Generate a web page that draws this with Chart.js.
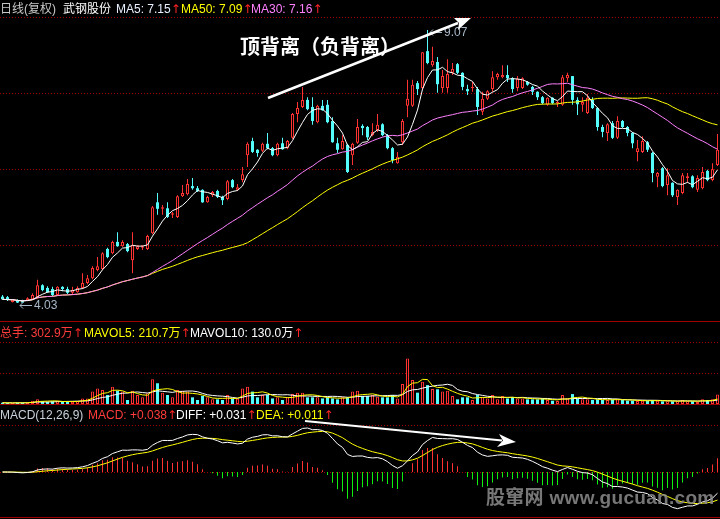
<!DOCTYPE html>
<html>
<head>
<meta charset="utf-8">
<script src="https://cdn.jsdelivr.net/npm/chart.js@4.4.1/dist/chart.umd.min.js"></script>
<style>
  html, body { margin: 0; padding: 0; background: #000; }
  #wrap { position: relative; width: 720px; height: 519px; overflow: hidden; background: #000;
    font-family: "Liberation Sans", "Noto Sans CJK SC", sans-serif; font-size: 12px; }
  canvas { position: absolute; left: 0; }
  .t { position: absolute; white-space: nowrap; line-height: 14px; }
  .up { color: #ff2424; font-family: "DejaVu Sans", sans-serif; font-size: 12px; }
  .sep { position: absolute; left: 0; width: 720px; height: 1px; background: #a00000; }
  #note { position: absolute; left: 240px; top: 31px; color: #fff; font: bold 20px "Noto Sans CJK SC", sans-serif; white-space: nowrap; }
  #mark { position: absolute; left: 486px; top: 482px; color: rgba(140,140,140,0.85); font: bold 19px "Liberation Sans", "Noto Sans CJK SC", sans-serif; letter-spacing: 0.3px; white-space: nowrap; }
  svg { position: absolute; left: 0; top: 0; }
</style>
</head>
<body>
<div id="wrap">
  <canvas id="price" width="720" height="322" style="top:0"></canvas>
  <canvas id="vol" width="720" height="84" style="top:321px"></canvas>
  <canvas id="macd" width="720" height="113" style="top:405px"></canvas>

  <div class="sep" style="top:321px"></div>
  <div class="sep" style="top:404px"></div>
  <div class="sep" style="top:517px"></div>

  <div class="t" style="left:0;top:2px;color:#c8c8c8">日线(复权)</div>
  <div class="t" style="left:63px;top:2px;color:#fff">武钢股份</div>
  <div class="t" style="left:116px;top:2px;color:#e8f0ff">MA5: 7.15<span class="up">↑</span></div>
  <div class="t" style="left:181px;top:2px;color:#ffff00">MA50: 7.09<span class="up">↑</span></div>
  <div class="t" style="left:251px;top:2px;color:#ff80ff">MA30: 7.16<span class="up">↑</span></div>

  <div class="t" style="left:0;top:326px;color:#ff3c3c">总手: 302.9万<span class="up">↑</span></div>
  <div class="t" style="left:84px;top:326px;color:#ffff00">MAVOL5: 210.7万<span class="up">↑</span></div>
  <div class="t" style="left:190px;top:326px;color:#fff">MAVOL10: 130.0万<span class="up">↑</span></div>

  <div class="t" style="left:0;top:408px;color:#c8d0dc">MACD(12,26,9)</div>
  <div class="t" style="left:88px;top:408px;color:#ff3c3c">MACD: +0.038<span class="up">↑</span></div>
  <div class="t" style="left:176px;top:408px;color:#fff">DIFF: +0.031<span class="up">↑</span></div>
  <div class="t" style="left:256px;top:408px;color:#ffff00">DEA: +0.011<span class="up">↑</span></div>

  <div id="note">顶背离（负背离）</div>
  <svg width="720" height="519">
    <line x1="268" y1="98" x2="458" y2="23" stroke="#fff" stroke-width="2.5"/>
    <polygon points="471,18 458,30 459,23 454,18" fill="#fff"/>
    <line x1="305" y1="421" x2="502" y2="440.5" stroke="#fff" stroke-width="2"/>
    <polygon points="516,442 497,447 503,440.5 499,434" fill="#fff"/>
  </svg>
  <div id="mark">股窜网 www.gucuan.com</div>
</div>

<script>
// daily bars, oldest first
const opens = [4.15,4.14,4.05,4.08,4.07,4.08,4.10,4.14,4.36,4.31,4.29,4.18,4.33,4.29,4.22,4.23,
  4.31,4.40,4.49,4.64,4.66,5.03,4.95,5.16,5.08,5.12,4.82,5.03,5.05,5.03,5.32,5.89,5.77,5.78,5.66,5.62,
  6.00,6.04,6.19,6.15,6.12,5.89,6.02,6.10,5.99,5.95,6.30,6.12,6.30,6.76,7.02,6.86,6.84,6.97,6.89,6.76,
  6.98,6.89,7.08,7.52,7.65,7.78,7.65,7.37,7.67,7.69,7.39,6.98,6.87,6.95,6.76,6.99,7.30,7.28,7.13,7.22,
  7.33,7.13,6.89,6.61,7.00,7.67,7.67,8.09,8.00,8.68,8.42,8.48,8.00,8.00,8.28,8.44,8.28,7.98,8.00,7.98,
  7.56,7.80,7.98,8.20,8.20,8.24,8.18,8.00,8.00,8.11,8.02,7.93,7.83,7.69,7.82,7.72,7.69,8.18,8.22,7.78,
  7.69,7.54,7.78,7.63,7.28,7.17,7.35,7.08,7.39,7.28,7.17,6.82,6.82,7.00,6.80,6.36,6.52,6.21,6.25,5.99,
  6.06,6.34,6.37,6.12,6.15,6.47,6.30,6.58];
const highs = [4.18,4.16,4.10,4.10,4.09,4.14,4.21,4.46,4.38,4.34,4.33,4.34,4.34,4.33,4.33,4.34,
  4.58,4.55,4.71,4.88,4.97,5.05,5.18,5.34,5.19,5.14,5.34,5.10,5.10,5.29,5.82,6.06,5.84,5.89,5.71,6.02,
  6.21,6.32,6.34,6.19,6.13,6.01,6.10,6.12,6.01,6.30,6.32,6.23,6.54,7.00,7.08,6.87,6.99,7.17,6.91,6.99,
  7.08,7.04,7.54,7.74,8.02,7.83,7.83,7.69,7.78,7.78,7.46,7.08,7.13,6.97,6.99,7.43,7.33,7.30,7.35,7.52,
  7.35,7.15,6.91,6.82,7.43,8.15,8.15,8.13,8.66,9.07,8.76,8.57,8.33,8.53,8.46,8.46,8.29,8.06,8.11,8.02,
  7.93,7.96,8.31,8.28,8.42,8.42,8.20,8.22,8.20,8.13,8.04,7.94,7.85,7.83,7.83,7.76,8.24,8.28,8.22,7.83,
  7.83,7.89,7.83,7.65,7.32,7.35,7.39,7.48,7.41,7.30,7.19,7.04,7.11,7.02,6.82,6.45,6.54,6.52,6.26,6.13,
  6.43,6.43,6.39,6.39,6.54,6.49,6.61,7.15];
const lows = [4.09,4.07,4.04,4.03,4.04,4.07,4.09,4.12,4.25,4.22,4.16,4.16,4.25,4.20,4.18,4.22,
  4.29,4.38,4.47,4.62,4.64,4.86,4.93,5.07,5.07,4.97,4.58,5.01,5.01,5.01,5.30,5.66,5.66,5.60,5.60,5.60,
  5.99,6.02,6.12,6.08,5.88,5.88,5.99,5.97,5.84,5.93,6.15,6.10,6.26,6.54,6.80,6.73,6.82,6.87,6.74,6.74,
  6.86,6.87,7.06,7.37,7.63,7.59,7.32,7.35,7.58,7.35,6.99,6.80,6.86,6.43,6.58,6.97,7.13,7.04,7.11,7.19,
  7.11,6.87,6.61,6.60,6.95,7.46,7.65,7.87,7.96,8.44,8.39,7.91,7.91,7.91,8.24,8.26,7.96,7.87,7.93,7.50,
  7.50,7.78,7.93,8.15,8.18,8.11,7.91,7.94,7.98,8.04,7.87,7.78,7.70,7.67,7.70,7.65,7.67,8.11,7.69,7.50,
  7.56,7.52,7.61,7.21,7.09,7.02,7.06,7.06,7.26,7.11,6.89,6.65,6.80,6.82,6.26,6.17,6.17,6.02,5.99,5.84,
  6.04,6.25,6.15,6.08,6.13,6.28,6.28,6.56];
const closes = [4.10,4.09,4.09,4.04,4.04,4.12,4.18,4.36,4.27,4.23,4.18,4.33,4.29,4.22,4.27,4.31,
  4.40,4.49,4.68,4.71,4.95,4.88,5.16,5.08,5.16,4.99,5.10,5.08,5.08,5.27,5.80,5.77,5.80,5.62,5.69,6.00,
  6.06,6.23,6.15,6.10,5.89,5.99,6.08,5.99,5.93,6.28,6.17,6.17,6.41,6.97,6.82,6.80,6.97,6.89,6.76,6.97,
  6.87,7.02,7.52,7.63,7.78,7.61,7.39,7.67,7.59,7.37,7.00,6.86,7.02,6.45,6.97,7.28,7.26,7.09,7.19,7.32,
  7.13,6.89,6.67,6.73,7.39,7.80,8.06,7.98,8.66,8.46,8.50,8.07,8.22,8.26,8.35,8.28,8.02,7.94,8.02,7.65,
  7.80,7.94,8.20,8.26,8.24,8.18,7.98,8.17,8.18,8.06,7.93,7.83,7.72,7.82,7.72,7.74,8.20,8.24,7.78,7.70,
  7.74,7.82,7.63,7.28,7.19,7.33,7.08,7.39,7.28,7.17,6.98,6.89,7.02,6.86,6.43,6.43,6.19,6.39,6.02,6.12,
  6.39,6.37,6.17,6.34,6.45,6.30,6.50,6.86];
// volume, in 万手
const volumes = [40,35,30,45,40,50,107,150,86,70,86,100,65,80,75,90,
  180,180,400,500,450,290,560,430,400,130,430,290,215,345,800,670,365,290,215,450,
  430,400,215,130,260,215,150,150,130,290,172,172,500,560,400,215,290,290,180,215,
  130,215,320,365,365,215,215,215,180,215,180,150,215,215,400,430,260,260,290,236,
  215,215,290,180,645,1470,775,365,720,610,485,475,400,430,260,150,215,215,130,290,
  215,180,290,150,260,180,215,180,180,150,150,150,180,130,107,97,290,180,320,172,
  150,150,130,150,130,130,150,150,130,107,107,97,107,97,130,107,86,86,86,86,
  130,86,86,65,150,130,150,302.9];
const days = closes.map((_, i) => i + 1);

const RED = '#ff3232';
const CYAN = '#54fcfc';
const GREEN = '#10f010';
const PINK = '#ff80ff';
const YELLOW = '#ffff00';
const GRID = '#a00000';

function sma(arr, n) {
  return arr.map((_, i) => {
    const s = Math.max(0, i - n + 1);
    let t = 0;
    for (let k = s; k <= i; k++) t += arr[k];
    return t / (i - s + 1);
  });
}
function ema(arr, n) {
  const a = 2 / (n + 1);
  const out = [];
  arr.forEach((v, i) => out.push(i ? a * v + (1 - a) * out[i - 1] : v));
  return out;
}

const up = closes.map((c, i) => c >= opens[i]);
const ma5 = sma(closes, 5);
const ma30 = sma(closes, 30);
const ma50 = sma(closes, 50);
const mavol5 = sma(volumes, 5);
const mavol10 = sma(volumes, 10);
const ema12 = ema(closes, 12);
const ema26 = ema(closes, 26);
const diff = ema12.map((v, i) => v - ema26[i]);
const dea = ema(diff, 9);
const macd = diff.map((v, i) => 2 * (v - dea[i]));

// dotted horizontal grid at the values given in plugin options
const dottedGrid = {
  id: 'dottedGrid',
  beforeDatasetsDraw(chart, args, opts) {
    const {ctx, chartArea, scales: {y}} = chart;
    ctx.save();
    ctx.strokeStyle = GRID;
    ctx.lineWidth = 1;
    ctx.setLineDash([1, 2]);
    opts.values.forEach(v => {
      const py = Math.round(y.getPixelForValue(v)) + 0.5;
      ctx.beginPath();
      ctx.moveTo(chartArea.left, py);
      ctx.lineTo(chartArea.right, py);
      ctx.stroke();
    });
    ctx.restore();
  }
};

// marks the highest high and lowest low
const extremes = {
  id: 'extremes',
  afterDatasetsDraw(chart) {
    const {ctx, scales: {x, y}} = chart;
    const hi = highs.indexOf(Math.max(...highs));
    const lo = lows.indexOf(Math.min(...lows));
    ctx.save();
    ctx.font = '12px "Liberation Sans", sans-serif';
    ctx.textBaseline = 'middle';
    ctx.fillStyle = '#a8b8c8';
    ctx.strokeStyle = '#a8b8c8';
    ctx.lineWidth = 1;
    [[hi, highs[hi]], [lo, lows[lo]]].forEach(([i, v]) => {
      const px = Math.round(x.getPixelForValue(i));
      const py = Math.round(y.getPixelForValue(v)) + 2.5;
      ctx.beginPath();
      ctx.moveTo(px + 2, py); ctx.lineTo(px + 14, py);
      ctx.moveTo(px + 2, py); ctx.lineTo(px + 5, py - 3);
      ctx.moveTo(px + 2, py); ctx.lineTo(px + 5, py + 3);
      ctx.stroke();
      ctx.fillText(v.toFixed(2), px + 16, py);
    });
    ctx.restore();
  }
};

const xScale = {type: 'category', offset: true, display: false};
const base = {
  responsive: false,
  animation: false,
  events: [],
  plugins: {legend: {display: false}, tooltip: {enabled: false}}
};
const barBase = {type: 'bar', grouped: false, inflateAmount: 0, borderSkipped: false, minBarLength: 1};
const lineBase = {type: 'line', borderWidth: 1, pointRadius: 0, tension: 0, fill: false};

// price panel
const PMIN = 3.70, PMAX = 9.31;
const pStep = (PMAX - PMIN) / 4;
new Chart(document.getElementById('price'), {
  data: {
    labels: days,
    datasets: [
      {...lineBase, data: ma5, borderColor: '#ffffff', order: 1},
      {...lineBase, data: ma30, borderColor: PINK, order: 1},
      {...lineBase, data: ma50, borderColor: YELLOW, order: 1},
      {...barBase, data: opens.map((o, i) => [Math.min(o, closes[i]), Math.max(o, closes[i])]),
        backgroundColor: up.map(u => u ? '#000' : CYAN),
        borderColor: up.map(u => u ? RED : CYAN),
        borderWidth: up.map(u => u ? 1 : 0),
        barThickness: 3, order: 2},
      {...barBase, data: lows.map((l, i) => [l, highs[i]]),
        backgroundColor: up.map(u => u ? RED : CYAN),
        borderWidth: 0, barThickness: 1, order: 3}
    ]
  },
  options: {
    ...base,
    layout: {padding: {top: 17, bottom: 1, left: 0, right: 0}},
    scales: {x: xScale, y: {display: false, min: PMIN, max: PMAX}},
    plugins: {...base.plugins, dottedGrid: {values: [1, 2, 3, 4].map(k => PMIN + k * pStep)}}
  },
  plugins: [dottedGrid, extremes]
});

// volume panel
new Chart(document.getElementById('vol'), {
  data: {
    labels: days,
    datasets: [
      {...lineBase, data: mavol5, borderColor: YELLOW, order: 1},
      {...lineBase, data: mavol10, borderColor: '#ffffff', order: 1},
      {...barBase, data: volumes,
        backgroundColor: up.map(u => u ? '#000' : CYAN),
        borderColor: up.map(u => u ? RED : CYAN),
        borderWidth: up.map(u => u ? 1 : 0),
        barThickness: 3, order: 2}
    ]
  },
  options: {
    ...base,
    layout: {padding: {top: 21, bottom: 1, left: 0, right: 0}},
    scales: {x: xScale, y: {display: false, min: 0, max: 2000}},
    plugins: {...base.plugins, dottedGrid: {values: [1000, 2000]}}
  },
  plugins: [dottedGrid]
});

// MACD panel
const mUnit = Math.max(...diff.map(Math.abs), ...dea.map(Math.abs)) / 44;
new Chart(document.getElementById('macd'), {
  data: {
    labels: days,
    datasets: [
      {...lineBase, data: diff, borderColor: '#ffffff', order: 1},
      {...lineBase, data: dea, borderColor: YELLOW, order: 1},
      {...barBase, data: macd, minBarLength: 0,
        backgroundColor: macd.map(v => v >= 0 ? RED : GREEN),
        borderWidth: 0, barThickness: 1, order: 2}
    ]
  },
  options: {
    ...base,
    layout: {padding: {top: 20, bottom: 1, left: 0, right: 0}},
    scales: {x: xScale, y: {display: false, min: -45 * mUnit, max: 47 * mUnit}},
    plugins: {...base.plugins, dottedGrid: {values: [0, 47 * mUnit]}}
  },
  plugins: [dottedGrid]
});
</script>
</body>
</html>
